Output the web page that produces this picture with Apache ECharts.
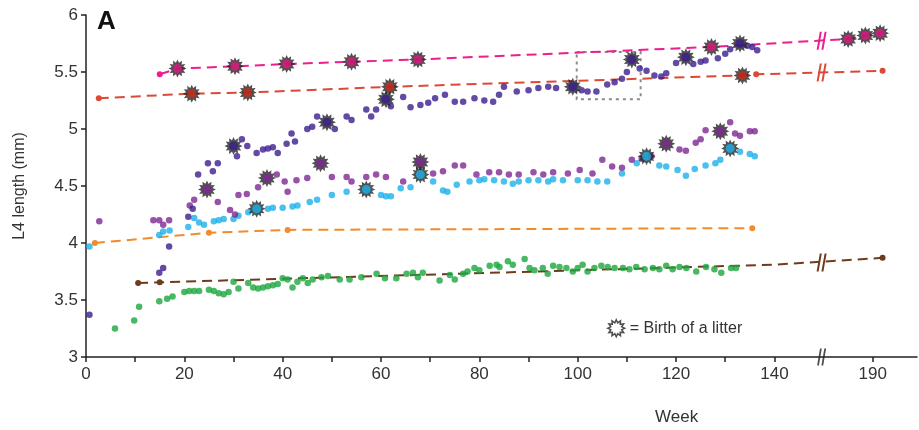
<!DOCTYPE html>
<html>
<head>
<meta charset="utf-8">
<script src="https://cdn.jsdelivr.net/npm/echarts@6/dist/echarts.min.js"></script>
<style>
  html, body { margin: 0; padding: 0; background: #fff; }
  #chart { width: 919px; height: 430px; }
</style>
</head>
<body>
<div id="chart"></div>
<script>
// L4 length over time, one track per animal; weeks after the axis break are shifted by GAP
const GAP = 30;          // weeks cut out by the axis break
const BREAK_X = 149.6;   // where the "//" marks sit (shifted scale)

const xTicks = [0, 10, 20, 30, 40, 50, 60, 70, 80, 90, 100, 110, 120, 130, 140, 190];
const xLabels = [0, 20, 40, 60, 80, 100, 120, 140, 190];

// dashed reference lines
const pinkStart = [15, 5.48];
const pinkBirths = [[18.6, 5.53], [30.3, 5.55], [40.8, 5.57], [54, 5.59], [67.5, 5.61], [127.2, 5.72],
  [185, 5.79], [188.5, 5.82], [191.5, 5.84]];
const redStart = [2.6, 5.27];
const redBirths = [[21.5, 5.31], [32.9, 5.32], [61.8, 5.37], [133.5, 5.47]];
const redEnd = [[136.3, 5.48], [192, 5.51]];
const orangeLine = [[1.8, 4.0], [25, 4.09], [41, 4.115], [135.5, 4.13]];
const brownLine = [[10.6, 3.65], [15, 3.655], [140, 3.81], [192, 3.87]];
const breakY = { pink: 5.775, red: 5.495, brown: 3.83 };

// weekly measurements
const indigo = [[0.7, 3.37], [14.9, 3.74], [15.7, 3.78], [16.9, 3.97], [20.8, 4.23], [21.7, 4.30], [22.8, 4.60],
  [24.8, 4.70], [25.8, 4.63], [26.8, 4.70], [30.7, 4.76], [31.7, 4.91], [32.8, 4.85], [34.7, 4.79], [36, 4.82],
  [37, 4.83], [38, 4.84], [39, 4.79], [40.8, 4.87], [41.8, 4.96], [42.5, 4.89], [45, 5.00], [46, 5.02], [47, 5.11],
  [50.6, 5.00], [53, 5.11], [54, 5.08], [57, 5.17], [58, 5.11], [59, 5.17], [62, 5.20], [64.5, 5.28], [66, 5.19],
  [68, 5.21], [69.6, 5.23], [71, 5.27], [73, 5.30], [75, 5.24], [76.7, 5.24], [79, 5.27], [81, 5.25], [82.8, 5.24],
  [84, 5.30], [85, 5.37], [87.6, 5.33], [90, 5.34], [92, 5.36], [94, 5.37], [95.6, 5.36], [100.8, 5.34], [102, 5.33],
  [103.8, 5.33], [106, 5.39], [107.5, 5.41], [109, 5.44], [110, 5.50], [112.6, 5.53], [114, 5.51], [115.6, 5.47],
  [117, 5.46], [118, 5.49], [120, 5.58], [123.5, 5.57], [125, 5.59], [126, 5.60], [128.5, 5.62], [130, 5.66],
  [131, 5.70], [134.5, 5.73], [135.5, 5.72], [136.5, 5.69]];
const indigoBirths = [[30, 4.85], [49, 5.06], [61, 5.26], [99, 5.37], [111, 5.61], [122, 5.63], [133, 5.75]];

const purple = [[2.7, 4.19], [13.7, 4.20], [14.9, 4.20], [15.7, 4.16], [16.9, 4.20], [21.1, 4.33], [22, 4.38],
  [26.8, 4.36], [29.3, 4.29], [30.3, 4.25], [31, 4.42], [32.7, 4.43], [35, 4.49], [38.8, 4.60], [40.4, 4.54],
  [41, 4.45], [42.8, 4.55], [45, 4.57], [50, 4.58], [53, 4.58], [54, 4.54], [57, 4.58], [59, 4.60], [61, 4.58],
  [64.5, 4.54], [70.6, 4.61], [72.6, 4.63], [75, 4.68], [76.7, 4.68], [79.4, 4.60], [82, 4.62], [84, 4.62],
  [86, 4.60], [88, 4.60], [91, 4.62], [93, 4.60], [95, 4.62], [98, 4.61], [100.4, 4.64], [103, 4.61], [105, 4.73],
  [107, 4.67], [109, 4.66], [111, 4.73], [113, 4.74], [115, 4.76], [120.7, 4.82], [122, 4.81], [124, 4.88],
  [125, 4.91], [126, 4.99], [131, 5.06], [132, 4.96], [133, 4.94], [135, 4.98], [136, 4.98]];
const purpleBirths = [[24.6, 4.47], [36.8, 4.57], [47.7, 4.70], [68, 4.71], [118, 4.87], [129, 4.98]];

const cyan = [[0.7, 3.97], [14.9, 4.07], [15.7, 4.10], [17, 4.11], [20.8, 4.14], [22, 4.22], [23, 4.18], [24, 4.16],
  [26, 4.19], [27, 4.20], [28, 4.21], [30, 4.21], [31, 4.24], [33, 4.27], [37, 4.30], [38, 4.31], [40, 4.31],
  [42, 4.32], [43, 4.33], [45.5, 4.36], [47, 4.38], [50, 4.42], [53, 4.45], [60, 4.42], [61, 4.41], [62, 4.41],
  [64, 4.48], [66, 4.49], [70.6, 4.54], [72.6, 4.46], [73.5, 4.45], [75.4, 4.51], [78, 4.54], [80, 4.55], [81, 4.56],
  [83, 4.55], [85, 4.54], [86.8, 4.52], [88, 4.54], [90, 4.55], [92, 4.55], [94, 4.54], [95, 4.56], [97, 4.55],
  [100, 4.55], [102, 4.55], [104, 4.54], [106, 4.54], [109, 4.61], [112, 4.70], [116.6, 4.68], [118, 4.67],
  [120.3, 4.64], [122, 4.59], [123.8, 4.65], [126, 4.68], [128, 4.70], [129, 4.73], [133, 4.80], [135, 4.78],
  [136, 4.76]];
const cyanBirths = [[34.7, 4.30], [57, 4.47], [68, 4.60], [114, 4.76], [131, 4.83]];

const green = [[5.9, 3.25], [9.8, 3.32], [10.8, 3.44], [14.9, 3.49], [16.5, 3.51], [17.6, 3.53], [20, 3.57],
  [21, 3.58], [22, 3.58], [23, 3.58], [25, 3.59], [26, 3.58], [27, 3.56], [28, 3.55], [29, 3.57], [30, 3.66],
  [31, 3.60], [33, 3.65], [34, 3.61], [35, 3.60], [36, 3.61], [37, 3.62], [38, 3.63], [39, 3.64], [40, 3.69],
  [41, 3.68], [42, 3.61], [43, 3.66], [44.1, 3.69], [45.1, 3.65], [46.1, 3.68], [47.9, 3.70], [49.2, 3.71],
  [51.6, 3.68], [53.6, 3.68], [56, 3.70], [59.1, 3.73], [60.8, 3.69], [63.1, 3.69], [65.2, 3.73], [66.5, 3.74],
  [67.5, 3.70], [68.5, 3.74], [71.9, 3.67], [74, 3.72], [75, 3.68], [76.7, 3.73], [77.6, 3.75], [79, 3.78],
  [80, 3.76], [82.1, 3.80], [83.5, 3.81], [84.1, 3.79], [85.8, 3.84], [86.8, 3.81], [89.2, 3.86], [90.2, 3.78],
  [91.2, 3.76], [92.9, 3.78], [93.9, 3.73], [95, 3.80], [96.3, 3.79], [97.7, 3.78], [99, 3.75], [100, 3.78],
  [101, 3.81], [102, 3.75], [103.4, 3.78], [104.8, 3.80], [106.1, 3.79], [107.5, 3.78], [109.2, 3.78],
  [110.5, 3.77], [111.9, 3.79], [113.6, 3.77], [115.3, 3.78], [116.6, 3.77], [118, 3.80], [119.3, 3.77],
  [120.7, 3.79], [122.1, 3.78], [124.1, 3.75], [126.1, 3.79], [127.8, 3.77], [129.2, 3.74], [131.2, 3.78],
  [132.2, 3.78]];

const zoomBox = [[99.8, 5.675], [112.8, 5.26]];

const C = {
  pink: '#ec1f8d', pinkDot: '#e0167f', red: '#dc4a36', redDot: '#cc2b1c', indigo: '#3b1d8e', purple: '#7e2792',
  cyan: '#1cb0e8', green: '#1ca63d', orange: '#f28b2c', brown: '#6e3b1e', ink: '#222',
};
const FONT = 'Liberation Sans, Arial, sans-serif';

const vx = w => (w > 150 ? w - GAP : w);
const pts = arr => arr.map(([w, v]) => [vx(w), v]);

// 12-point starburst used for the "birth of a litter" marker
function starPath(n, rIn) {
  let d = '';
  for (let i = 0; i < n * 2; i++) {
    const r = i % 2 ? rIn : 1;
    const a = (Math.PI * i) / n - Math.PI / 2;
    d += (i ? 'L' : 'M') + (50 + 50 * r * Math.cos(a)).toFixed(1) + ',' + (50 + 50 * r * Math.sin(a)).toFixed(1);
  }
  return 'path://' + d + 'Z';
}
const STAR = starPath(12, 0.66);
const BREAK = 'path://M4,0L6.5,0L2.5,20L0,20ZM10,0L12.5,0L8.5,20L6,20Z';

function dots(name, data, color) {
  return { name, type: 'scatter', data: pts(data), symbolSize: 6.5, itemStyle: { color }, z: 3 };
}
function births(data, color) {
  return [
    { type: 'scatter', data: pts(data), symbol: STAR, symbolSize: 18, itemStyle: { color: '#262626' }, z: 5 },
    { type: 'scatter', data: pts(data), symbolSize: 9, itemStyle: { color }, z: 6 },
  ];
}
function breakMark(y, color) {
  return { symbol: BREAK, symbolSize: [10, 18], silent: true, label: { show: false },
    itemStyle: { color }, data: [{ coord: [BREAK_X, y] }] };
}
function dashed(name, data, color, dotIdx, mark) {
  const last = data.length - 1;
  return {
    name, type: 'line', data: pts(data), z: 2,
    symbol: 'circle', showAllSymbol: true,
    symbolSize: (v, p) => (dotIdx === 'all' || dotIdx.includes(p.dataIndex) || (dotIdx.includes(-1) && p.dataIndex === last) ? 6 : 0),
    itemStyle: { color }, lineStyle: { color, width: 2, type: [10, 6] },
    markPoint: mark,
  };
}

const chart = echarts.init(document.getElementById('chart'), null, { renderer: 'canvas' });
chart.setOption({
  animation: false,
  textStyle: { fontFamily: FONT },
  grid: { left: 86, right: 2, top: 15, bottom: 73 },
  xAxis: {
    type: 'value', min: 0, max: 169,
    axisLine: { lineStyle: { color: C.ink, width: 1.5 } },
    axisTick: { show: true, length: 5, customValues: xTicks.map(vx), lineStyle: { color: C.ink, width: 1.5 } },
    axisLabel: { customValues: xLabels.map(vx), formatter: v => String(v >= 150 ? v + GAP : v),
      color: '#333', fontSize: 17, margin: 9, fontFamily: FONT },
    splitLine: { show: false },
  },
  yAxis: {
    type: 'value', min: 3, max: 6, interval: 0.5,
    name: 'L4 length (mm)', nameLocation: 'middle', nameGap: 58, nameRotate: 90,
    nameTextStyle: { color: '#333', fontSize: 16, fontFamily: FONT },
    axisLine: { show: true, lineStyle: { color: C.ink, width: 1.5 } },
    axisTick: { show: true, length: 5, lineStyle: { color: C.ink, width: 1.5 } },
    axisLabel: { color: '#333', fontSize: 17, margin: 8, fontFamily: FONT },
    splitLine: { show: false },
  },
  legend: {
    left: 602, top: 314, itemWidth: 17, itemHeight: 17, itemGap: 4,
    textStyle: { color: '#333', fontSize: 16, fontFamily: FONT },
    data: [{ name: '= Birth of a litter', icon: STAR,
      itemStyle: { color: '#fff', borderColor: '#222', borderWidth: 1.5 } }],
  },
  graphic: [
    { type: 'text', left: 97, top: 9, style: { text: 'A', font: 'bold 26px ' + FONT, fill: '#111' } },
    { type: 'text', left: 655, top: 409, style: { text: 'Week', font: '17px ' + FONT, fill: '#333' } },
  ],
  series: [
    { name: '= Birth of a litter', type: 'scatter', data: [] },
    dashed('pink', [pinkStart, ...pinkBirths], C.pink, [0], breakMark(breakY.pink, C.pink)),
    dashed('red', [redStart, ...redBirths, ...redEnd], C.red, [0, redBirths.length + 1, -1], breakMark(breakY.red, C.red)),
    dashed('orange', orangeLine, C.orange, 'all'),
    dashed('brown', brownLine, C.brown, [0, 1, -1], breakMark(breakY.brown, C.brown)),
    dots('green', green, C.green),
    dots('cyan', cyan, C.cyan),
    dots('purple', purple, C.purple),
    Object.assign(dots('indigo', indigo, C.indigo), {
      markArea: { silent: true, itemStyle: { color: 'rgba(0,0,0,0)', borderColor: '#8a8a8a', borderWidth: 2, borderType: [3, 4] },
        data: [[{ coord: zoomBox[0] }, { coord: zoomBox[1] }]] },
    }),
    ...births(pinkBirths, C.pinkDot),
    ...births(redBirths, C.redDot),
    ...births(indigoBirths, C.indigo),
    ...births(purpleBirths, C.purple),
    ...births(cyanBirths, C.cyan),
    { type: 'scatter', data: [[BREAK_X, 3]], symbol: BREAK, symbolSize: [9, 17], clip: false, silent: true,
      itemStyle: { color: C.ink }, z: 7 },
  ],
});
</script>
</body>
</html>
